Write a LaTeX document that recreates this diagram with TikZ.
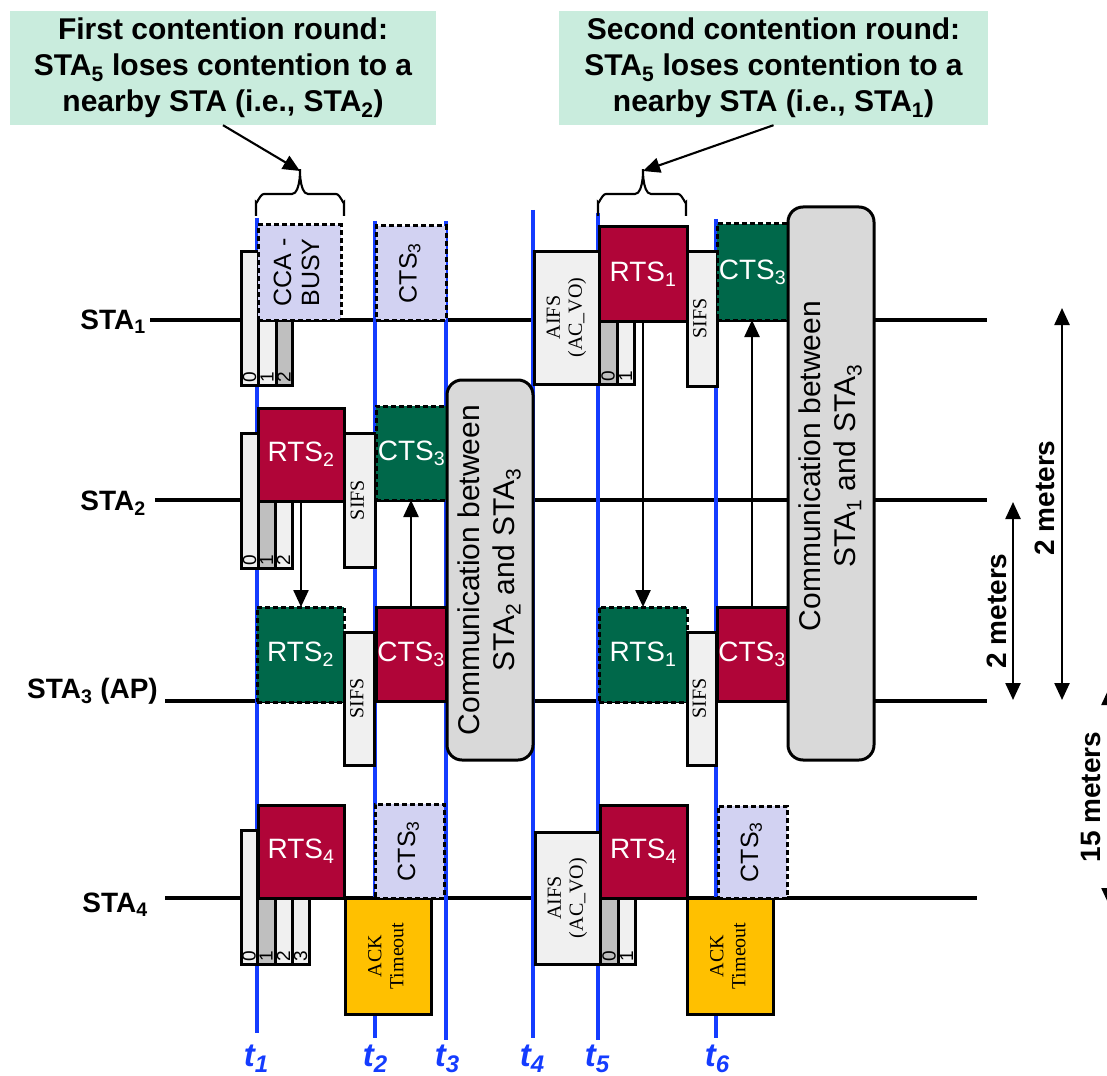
\documentclass[tikz,border=0pt]{standalone}
\usepackage{fontspec}
\usepackage{graphicx}
\setmainfont{Liberation Sans}
\newfontfamily\tnr{Liberation Serif}
\usetikzlibrary{arrows.meta}
\definecolor{crim}{RGB}{176,5,56}
\definecolor{dgreen}{RGB}{0,104,74}
\definecolor{lav}{RGB}{210,210,242}
\definecolor{lgray}{RGB}{240,240,240}
\definecolor{mgray}{RGB}{191,191,191}
\definecolor{cgray}{RGB}{217,217,217}
\definecolor{orng}{RGB}{255,192,0}
\definecolor{mint}{RGB}{201,236,221}
\definecolor{tblue}{RGB}{20,60,255}
\newcommand\rt[1]{\rotatebox{90}{\begin{tabular}{@{}c@{}}#1\end{tabular}}}
\newcommand\bx[7]{\node[#6, minimum width={(#4)-(#2)}, minimum height={(#5)-(#3)}] (#1) at ({((#2)+(#4))/2},{((#3)+(#5))/2}) {#7};}
\newcommand\tsb[1]{\raisebox{-6pt}{\fontsize{24}{24}\selectfont #1}}
\begin{document}
\begin{tikzpicture}[x=1pt,y=-1pt,
  box/.style={draw=black, line width=3pt, inner sep=0pt, outer sep=0pt},
  redbox/.style={box, fill=crim, text=white, font=\fontsize{28}{30}\selectfont},
  grnbox/.style={box, fill=dgreen, text=white, dash pattern=on 5pt off 3pt, font=\fontsize{28}{30}\selectfont},
  lavbox/.style={box, fill=lav, dash pattern=on 5pt off 3pt, font=\fontsize{25}{28}\selectfont},
  slotL/.style={box, fill=lgray},
  slotG/.style={box, fill=mgray},
  ifs/.style={box, fill=lgray, font=\tnr\fontsize{20}{22}\selectfont},
  ack/.style={box, fill=orng, font=\tnr\fontsize{20}{22}\selectfont},
  comm/.style={box, fill=cgray, rounded corners=15pt},
  commtxt/.style={inner sep=0pt, font=\fontsize{30}{35}\selectfont},
  digit/.style={rotate=90, anchor=west, inner sep=2.5pt, font=\fontsize{19}{19}\selectfont},
  sta/.style={anchor=base east, inner sep=0pt, font=\bfseries\fontsize{28}{30}\selectfont},
  tline/.style={draw=tblue, line width=3.8pt},
  tlab/.style={anchor=base, inner sep=0pt, text=tblue, font=\bfseries\itshape\fontsize{33}{34}\selectfont},
  timeline/.style={line width=3.4pt},
  arr/.style={line width=2.4pt, -{Triangle[width=15pt,length=17pt]}},
  carr/.style={line width=2.1pt, -{Triangle[width=15pt,length=17pt]}},
  brace/.style={line width=2.1pt},
  callout/.style={fill=mint, inner sep=0pt, align=center, font=\bfseries\fontsize{30}{36}\selectfont},
  meter/.style={line width=2.4pt, {Triangle[width=15pt,length=17pt]}-{Triangle[width=15pt,length=17pt]}},
  mlab/.style={rotate=90, inner sep=0pt, font=\bfseries\fontsize{28}{30}\selectfont}]
\useasboundingbox (0,0) rectangle (1107,1075);
\clip (0,0) rectangle (1107,1075);

% station labels and timelines
\node[sta] (s1) at (146,329) {STA\textsubscript{1}};
\node[sta] (s2) at (146,510) {STA\textsubscript{2}};
\node[sta] (s3) at (158,698) {STA\textsubscript{3} (AP)};
\node[sta] (s4) at (148,912) {STA\textsubscript{4}};
\coordinate (l1a) at (150,320); \coordinate (l1b) at (987,320);
\coordinate (l2a) at (155,500); \coordinate (l2b) at (987,500);
\coordinate (l3a) at (165,701); \coordinate (l3b) at (987,701);
\coordinate (l4a) at (165,898); \coordinate (l4b) at (977,898);
\draw[timeline] (l1a) -- (l1b);
\draw[timeline] (l2a) -- (l2b);
\draw[timeline] (l3a) -- (l3b);
\draw[timeline] (l4a) -- (l4b);

% time lines
\coordinate (t1a) at (257,218); \coordinate (t1b) at (257,1033);
\coordinate (t2a) at (375,221); \coordinate (t2b) at (375,1038);
\coordinate (t3a) at (446,221); \coordinate (t3b) at (446,1040);
\coordinate (t4a) at (533,210); \coordinate (t4b) at (533,1038);
\coordinate (t5a) at (598,213); \coordinate (t5b) at (598,1040);
\coordinate (t6a) at (716,219); \coordinate (t6b) at (716,1038);
\draw[tline] (t1a) -- (t1b);
\draw[tline] (t2a) -- (t2b);
\draw[tline] (t3a) -- (t3b);
\draw[tline] (t4a) -- (t4b);
\draw[tline] (t5a) -- (t5b);
\draw[tline] (t6a) -- (t6b);
\node[tlab] (lt1) at (256,1066) {t\tsb{1}};
\node[tlab] (lt2) at (375,1066) {t\tsb{2}};
\node[tlab] (lt3) at (447,1066) {t\tsb{3}};
\node[tlab] (lt4) at (532,1066) {t\tsb{4}};
\node[tlab] (lt5) at (597,1066) {t\tsb{5}};
\node[tlab] (lt6) at (717,1066) {t\tsb{6}};

% callouts and braces
\node[callout, minimum width=426, minimum height=114] (c1) at (223,68)
  {First contention round:\\STA\textsubscript{5} loses contention to a\\nearby STA (i.e., STA\textsubscript{2})};
\node[callout, minimum width=429, minimum height=114] (c2) at (773.5,68)
  {Second contention round:\\STA\textsubscript{5} loses contention to a\\nearby STA (i.e., STA\textsubscript{1})};
\coordinate (b1) at (300,171);
\coordinate (b2) at (643,171);
\draw[brace] (256,216) -- (256,202) to[out=-90,in=180] (264,194) -- (292,194) to[out=0,in=90] (b1)
  to[out=90,in=180] (308,194) -- (336,194) to[out=0,in=-90] (344,202) -- (344,216);
\draw[brace] (598,216) -- (598,202) to[out=-90,in=180] (606,194) -- (635,194) to[out=0,in=90] (b2)
  to[out=90,in=180] (651,194) -- (678,194) to[out=0,in=-90] (686,202) -- (686,216);
\draw[carr] (c1.south) -- (b1);
\draw[carr] (c2.south) -- (b2);

% ---- first round ----
% STA1
\bx{s1k0}{241}{251}{258}{385}{slotL}{}
\bx{s1k1}{258}{320}{276}{385}{slotL}{}
\bx{s1k2}{276}{320}{292}{385}{slotG}{}
\bx{s1cca}{258}{225}{341}{320}{lavbox}{\rt{CCA -\\BUSY}}
\bx{s1cts}{376}{226}{446}{320}{lavbox}{\rt{CTS\textsubscript{3}}}
\node[digit] (s1d0) at (s1k0.south) {0};
\node[digit] (s1d1) at (s1k1.south) {1};
\node[digit] (s1d2) at (s1k2.south) {2};
% STA2
\bx{s2k0}{241}{433}{258}{568}{slotL}{}
\bx{s2k1}{258}{500}{275}{568}{slotG}{}
\bx{s2k2}{275}{500}{292}{568}{slotL}{}
\bx{s2rts}{258}{408}{344}{501}{redbox}{RTS\textsubscript{2}}
\bx{s2sifs}{344}{433}{375}{567}{ifs}{\rt{SIFS}}
\bx{s2cts}{376}{406}{447}{500}{grnbox}{CTS\textsubscript{3}}
\node[digit] (s2d0) at (s2k0.south) {0};
\node[digit] (s2d1) at (s2k1.south) {1};
\node[digit] (s2d2) at (s2k2.south) {2};
% STA3
\bx{s3rts}{257}{607}{344}{702}{grnbox}{RTS\textsubscript{2}}
\bx{s3sifs}{344}{632}{374}{765}{ifs}{\rt{SIFS}}
\bx{s3cts}{376}{607}{446}{701}{redbox}{CTS\textsubscript{3}}
% STA4
\bx{s4k0}{241}{830}{257}{964}{slotL}{}
\bx{s4k1}{257}{898}{275}{964}{slotG}{}
\bx{s4k2}{275}{898}{292}{964}{slotL}{}
\bx{s4k3}{292}{898}{309}{964}{slotL}{}
\bx{s4rts}{258}{805}{344}{898}{redbox}{RTS\textsubscript{4}}
\bx{s4ack}{345}{898}{431}{1014}{ack}{\rt{ACK\\Timeout}}
\bx{s4cts}{375}{804}{444}{898}{lavbox}{\rt{CTS\textsubscript{3}}}
\node[digit] (s4d0) at (s4k0.south) {0};
\node[digit] (s4d1) at (s4k1.south) {1};
\node[digit] (s4d2) at (s4k2.south) {2};
\node[digit] (s4d3) at (s4k3.south) {3};
% communication 1
\bx{comm1}{447}{380}{533}{760}{comm}{}
\node[commtxt] (comm1t) at (490,570) {\rt{Communication between\\STA\textsubscript{2} and STA\textsubscript{3}}};

% ---- second round ----
\bx{r1aifs}{534}{251}{599}{384}{ifs}{\rt{AIFS\\(AC\_VO)}}
\bx{r1k0}{599}{321}{617}{384}{slotG}{}
\bx{r1k1}{617}{321}{634}{384}{slotL}{}
\bx{r1rts}{599}{227}{687}{321}{redbox}{RTS\textsubscript{1}}
\bx{r1sifs}{687}{251}{717}{386}{ifs}{\rt{SIFS}}
\bx{r1cts}{717}{224}{788}{320}{grnbox}{CTS\textsubscript{3}}
\node[digit] (r1d0) at (r1k0.south) {0};
\node[digit] (r1d1) at (r1k1.south) {1};
\bx{r3rts}{599}{607}{687}{702}{grnbox}{RTS\textsubscript{1}}
\bx{r3sifs}{687}{632}{716}{765}{ifs}{\rt{SIFS}}
\bx{r3cts}{717}{607}{787}{701}{redbox}{CTS\textsubscript{3}}
\bx{r4aifs}{535}{832}{600}{964}{ifs}{\rt{AIFS\\(AC\_VO)}}
\bx{r4k0}{600}{898}{618}{964}{slotG}{}
\bx{r4k1}{618}{898}{635}{964}{slotL}{}
\bx{r4rts}{600}{805}{687}{898}{redbox}{RTS\textsubscript{4}}
\bx{r4ack}{687}{898}{773}{1014}{ack}{\rt{ACK\\Timeout}}
\bx{r4cts}{718}{806}{787}{898}{lavbox}{\rt{CTS\textsubscript{3}}}
\node[digit] (r4d0) at (r4k0.south) {0};
\node[digit] (r4d1) at (r4k1.south) {1};
\bx{comm2}{788}{207}{874}{760}{comm}{}
\node[commtxt] (comm2t) at (831,466) {\rt{Communication between\\STA\textsubscript{1} and STA\textsubscript{3}}};

% frame arrows
\draw[arr] (s2rts.south) -- (s2rts.south |- s3rts.north);
\draw[arr] (s3cts.north) -- (s3cts.north |- s2cts.south);
\draw[arr] (r1rts.south) -- (r1rts.south |- r3rts.north);
\draw[arr] (r3cts.north) -- (r3cts.north |- r1cts.south);

% distances
\coordinate (m1a) at (1013,502); \coordinate (m1b) at (1013,700);
\coordinate (m2a) at (1062,308); \coordinate (m2b) at (1062,700);
\coordinate (m3a) at (1109,688); \coordinate (m3b) at (1109,905);
\draw[meter] (m1a) -- (m1b);
\draw[meter] (m2a) -- (m2b);
\draw[meter] (m3a) -- (m3b);
\node[mlab] (ml1) at (997,611) {2 meters};
\node[mlab] (ml2) at (1045,498) {2 meters};
\node[mlab] (ml3) at (1091,797) {15 meters};
\end{tikzpicture}
\end{document}
